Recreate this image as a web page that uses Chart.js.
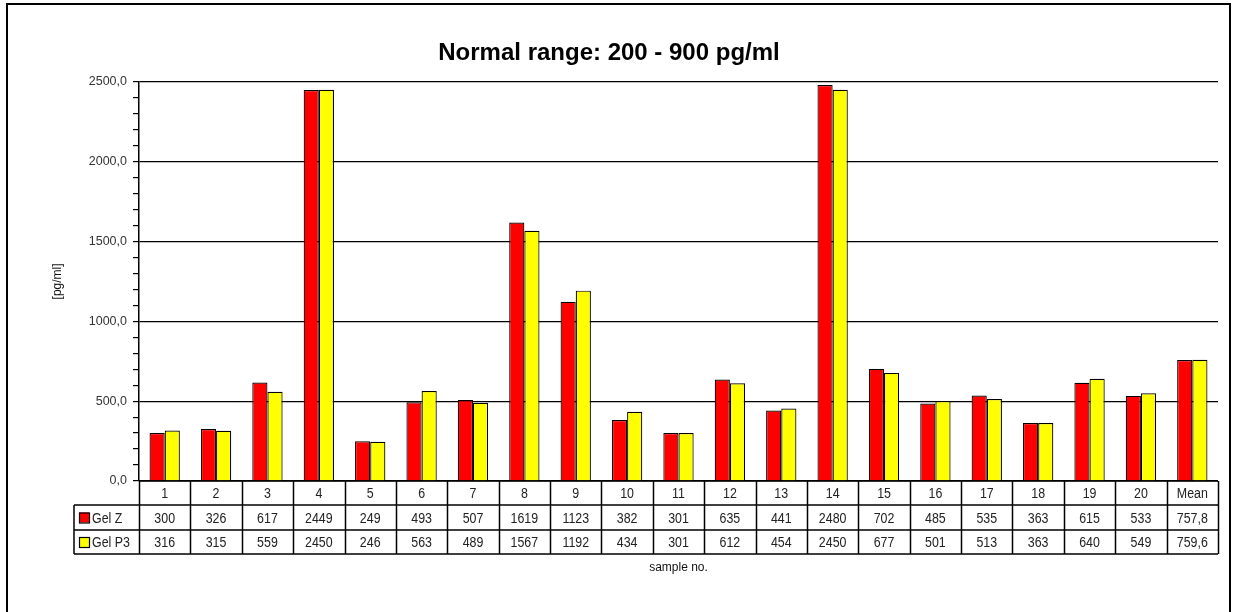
<!DOCTYPE html>
<html>
<head>
<meta charset="utf-8">
<script src="https://cdn.jsdelivr.net/npm/chart.js@4/dist/chart.umd.min.js"></script>
<style>
  html, body { margin: 0; padding: 0; background: #fff; }
  #wrap { width: 1236px; height: 612px; position: relative; }
</style>
</head>
<body>
<div id="wrap"><canvas id="c" width="1236" height="612"></canvas></div>
<script>
// categorias y valores
const samples = ['1','2','3','4','5','6','7','8','9','10','11','12','13','14','15','16','17','18','19','20','Mean'];
const gelZ = [300, 326, 617, 2449, 249, 493, 507, 1619, 1123, 382, 301, 635, 441, 2480, 702, 485, 535, 363, 615, 533, 757.8];
const gelP3 = [316, 315, 559, 2450, 246, 563, 489, 1567, 1192, 434, 301, 612, 454, 2450, 677, 501, 513, 363, 640, 549, 759.6];
const seriesNames = ['Gel Z', 'Gel P3'];
const seriesColors = ['#ff0000', '#ffff00'];

const sans = 'Arial, "Liberation Sans", sans-serif';

function fmt(v) {
    return Number.isInteger(v) ? String(v) : v.toFixed(1).replace('.', ',');
}

// texto estrecho: se escala en horizontal
function narrowText(c, txt, x, y, align) {
    const k = 0.8;
    c.save();
    c.textAlign = align;
    c.translate(x, y);
    c.scale(k, 1);
    c.fillText(txt, 0, 0);
    c.restore();
}

// marco exterior + tabla de datos bajo el eje x
const tablePlugin = {
    id: 'dataTable',
    beforeDraw(chart) {
        const c = chart.ctx;
        c.save();
        c.strokeStyle = '#000';
        c.lineWidth = 2;
        c.beginPath();
        c.moveTo(7, 612);
        c.lineTo(7, 4);
        c.lineTo(1230, 4);
        c.lineTo(1230, 612);
        c.stroke();
        c.restore();
    },
    afterDraw(chart) {
        const c = chart.ctx;
        const x = chart.scales.x;
        const area = chart.chartArea;
        const rows = [area.bottom, 505, 530, 554];
        const labelLeft = 74;
        const w = (area.right - area.left) / samples.length;
        c.save();
        c.strokeStyle = '#000';
        c.lineWidth = 1.5;
        c.beginPath();
        c.moveTo(area.left, rows[0]); c.lineTo(area.right, rows[0]);
        for (let r = 1; r < rows.length; r++) {
            c.moveTo(labelLeft, rows[r]); c.lineTo(area.right, rows[r]);
        }
        for (let i = 0; i <= samples.length; i++) {
            const px = Math.round(area.left + i * w) + 0.5;
            c.moveTo(px, rows[0]); c.lineTo(px, rows[3]);
        }
        c.moveTo(labelLeft, rows[1]); c.lineTo(labelLeft, rows[3]);
        c.stroke();

        c.fillStyle = '#222';
        c.font = '15.5px ' + sans;
        c.textBaseline = 'middle';
        samples.forEach((s, i) => {
            const cx = x.getPixelForValue(i);
            narrowText(c, s, cx, (rows[0] + rows[1]) / 2 + 1, 'center');
            narrowText(c, fmt(gelZ[i]), cx, (rows[1] + rows[2]) / 2 + 1, 'center');
            narrowText(c, fmt(gelP3[i]), cx, (rows[2] + rows[3]) / 2 + 1, 'center');
        });

        seriesNames.forEach((n, k) => {
            const mid = (rows[k + 1] + rows[k + 2]) / 2;
            c.fillStyle = seriesColors[k];
            c.fillRect(79, mid - 5, 10, 10);
            c.lineWidth = 1.2;
            c.strokeRect(79.5, mid - 4.5, 10, 10);
            c.fillStyle = '#222';
            narrowText(c, n, 92, mid + 1, 'left');
        });

        // titulo del eje x
        c.font = '12px ' + sans;
        c.textAlign = 'center';
        c.fillStyle = '#111';
        c.fillText('sample no.', (area.left + area.right) / 2, 568);
        c.restore();
    }
};

new Chart(document.getElementById('c'), {
    type: 'bar',
    data: {
        labels: samples,
        datasets: [
            { label: seriesNames[0], data: gelZ, backgroundColor: seriesColors[0], borderColor: '#000', borderWidth: 1.2 },
            { label: seriesNames[1], data: gelP3, backgroundColor: seriesColors[1], borderColor: '#000', borderWidth: 1.2 }
        ]
    },
    options: {
        responsive: false,
        animation: false,
        events: [],
        categoryPercentage: 0.59,
        barPercentage: 1,
        layout: { padding: { left: 0, right: 18, top: 0, bottom: 0 } },
        plugins: {
            legend: { display: false },
            tooltip: { enabled: false },
            title: {
                display: true,
                text: 'Normal range: 200 - 900 pg/ml',
                color: '#000',
                font: { family: sans, size: 24, weight: 'bold' },
                padding: { top: 39, bottom: 14 }
            }
        },
        scales: {
            x: {
                ticks: { display: false },
                grid: { display: false },
                border: { display: false },
                afterFit(scale) { scale.height = 612 - 481; }
            },
            y: {
                min: 0,
                max: 2500,
                afterFit(scale) { scale.width = 139; },
                ticks: {
                    stepSize: 100,
                    autoSkip: false,
                    padding: 6,
                    color: '#333',
                    font: { family: sans, size: 12.5 },
                    callback: v => (v % 500 === 0 ? v.toFixed(1).replace('.', ',') : '')
                },
                grid: {
                    color: ctx => (ctx.tick && ctx.tick.value % 500 === 0 ? '#000' : 'rgba(0,0,0,0)'),
                    tickColor: '#000',
                    tickLength: 6,
                    lineWidth: 1.2
                },
                border: { display: true, color: '#000', width: 1.5 },
                title: {
                    display: true,
                    text: '[pg/ml]',
                    color: '#111',
                    font: { family: sans, size: 12 },
                    padding: { top: 50, bottom: 0 }
                }
            }
        }
    },
    plugins: [tablePlugin]
});
</script>
</body>
</html>
